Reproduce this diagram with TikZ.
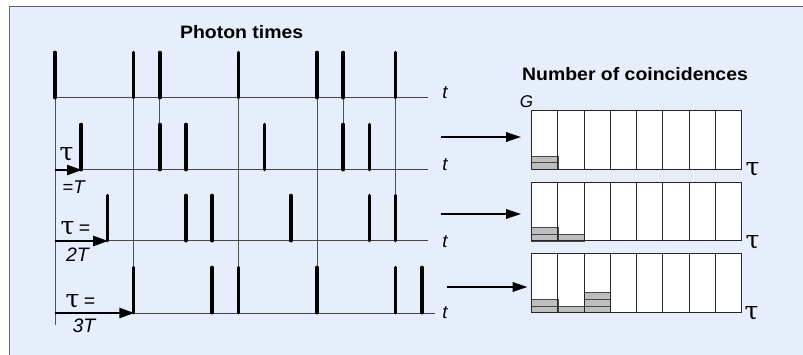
\documentclass[tikz,border=0pt]{standalone}
\usepackage{fontspec}
\setmainfont{Liberation Sans}
\newfontfamily\taufont{DejaVu Serif}
\usetikzlibrary{arrows.meta}
\definecolor{bgblue}{RGB}{230,238,252}
\definecolor{framec}{RGB}{100,100,100}
\definecolor{axisc}{RGB}{70,70,70}
\definecolor{vlinec}{RGB}{80,80,80}
\definecolor{blockc}{RGB}{190,190,190}
\definecolor{blockline}{RGB}{70,70,70}
\newcommand{\hs}[1]{\scalebox{1.08}[1]{#1}}
\begin{document}
\begin{tikzpicture}[x=1pt,y=-1pt,
  pulse/.style={line width=3.6pt, line cap=round, black},
  axisline/.style={line width=1pt, axisc},
  vline/.style={line width=0.9pt, vlinec},
  tauarrow/.style={line width=2.2pt, black, -{Triangle[length=15pt,width=10pt]}},
  maparrow/.style={line width=1.8pt, black, -{Triangle[length=15pt,width=9.5pt]}},
  lbl/.style={inner sep=0pt, outer sep=0pt},
  titlelbl/.style={lbl, font=\fontsize{18}{20}\selectfont\bfseries},
  tlbl/.style={lbl, font=\fontsize{18.5}{20}\selectfont\itshape},
  taulbl/.style={lbl, font=\taufont\fontsize{25}{27}\selectfont},
  block/.style={fill=blockc, draw=blockline, line width=0.8pt},
  binline/.style={draw=black!85, line width=1pt}
]
\useasboundingbox (0,0) rectangle (803,355);
\fill[white] (0,0) rectangle (803,355);
\fill[bgblue] (9.5,6.5) rectangle (803,355);
\draw[framec, line width=1pt] (9.5,355) -- (9.5,6.5) -- (803,6.5);

% axes
\foreach \r/\y/\xe in {1/98/428, 2/170/428, 3/241/428, 4/313/435} {
  \coordinate (a\r) at (55,\y);
  \coordinate (b\r) at (\xe,\y);
  \draw[axisline] (a\r) -- (b\r);
}

% coincidence lines
\foreach \k/\yb in {0/325, 3/313, 4/170, 7/313, 10/313, 11/170, 13/241} {
  \draw[vline] ({55+\k*26.2},98) -- ({55+\k*26.2},\yb);
}

% pulses
\foreach \y/\lst in {98/{0,3,4,7,10,11,13}, 170/{1,4,5,8,11,12}, 241/{2,5,6,9,12,13}, 313/{3,6,7,10,13,14}} {
  \foreach \k in \lst {
    \draw[pulse] ({55+\k*26.2},{\y-0.3}) -- ({55+\k*26.2},{\y-45.5});
  }
}

% tau arrows
\coordinate (e2) at (82,170);
\coordinate (e3) at (108.2,241);
\coordinate (e4) at (134.4,313);
\draw[tauarrow] (a2) -- (e2);
\draw[tauarrow] (a3) -- (e3);
\draw[tauarrow] (a4) -- (e4);

% labels left
\node[titlelbl, anchor=base] (ttl1) at (241.7,39) {\hs{Photon times}};
\foreach \r/\y in {1/98.5, 2/170.5, 3/248, 4/319} {
  \node[tlbl, anchor=base] (t\r) at (445,\y) {t};
}
\node[taulbl] (tau2) at (66.5,154.5) {τ};
\node[lbl, font=\fontsize{18.5}{20}\selectfont\itshape] (eq2) at (73.5,187.5) {=T};
\node[lbl] (tau3) at (75.5,228.5) {{\taufont\fontsize{25}{27}\selectfont τ}\hspace{4.5pt}{\fontsize{19.5}{21}\selectfont =}};
\node[lbl, font=\fontsize{19.5}{21}\selectfont\itshape] (eq3) at (77.5,254.5) {2T};
\node[lbl] (tau4) at (80.5,301.5) {{\taufont\fontsize{25}{27}\selectfont τ}\hspace{4.5pt}{\fontsize{19.5}{21}\selectfont =}};
\node[lbl, font=\fontsize{19.5}{21}\selectfont\itshape] (eq4) at (84,326) {3T};

% histograms
\foreach \h/\yt in {1/110.7, 2/182.3, 3/254} {
  \fill[white] (531.7,\yt) rectangle (741.7,{\yt+58.6});
}
\foreach \yb/\bin/\n in {169.3/1/2, 241/1/2, 241/2/1, 312.6/1/2, 312.6/2/1, 312.6/3/3} {
  \foreach \j in {1,...,\n} {
    \filldraw[block] ({531.7+(\bin-1)*26.25},{\yb-(\j-1)*6.6}) rectangle ++(26.25,-6.6);
  }
}
\foreach \h/\yt in {1/110.7, 2/182.3, 3/254} {
  \coordinate (hb\h) at (531.7,{\yt+58.6});
  \coordinate (ht\h) at (741.7,\yt);
  \draw[binline] (hb\h) rectangle (ht\h);
  \foreach \i in {1,...,7} {
    \draw[binline] ({531.7+\i*26.25},\yt) -- ({531.7+\i*26.25},{\yt+58.6});
  }
}

% map arrows
\coordinate (ms2) at (440.7,137); \coordinate (me2) at (521,137);
\coordinate (ms3) at (440.7,214); \coordinate (me3) at (521,214);
\coordinate (ms4) at (446.7,287); \coordinate (me4) at (527.5,287);
\draw[maparrow] (ms2) -- (me2);
\draw[maparrow] (ms3) -- (me3);
\draw[maparrow] (ms4) -- (me4);

% labels right
\node[titlelbl, anchor=base] (ttl2) at (635,80.7) {\hs{Number of coincidences}};
\node[lbl, font=\fontsize{17}{19}\selectfont\itshape] (G) at (526.5,102) {G};
\node[taulbl] (rt1) at (752.5,169.5) {τ};
\node[taulbl] (rt2) at (752.5,242.5) {τ};
\node[taulbl] (rt3) at (751.5,313) {τ};
\end{tikzpicture}
\end{document}
